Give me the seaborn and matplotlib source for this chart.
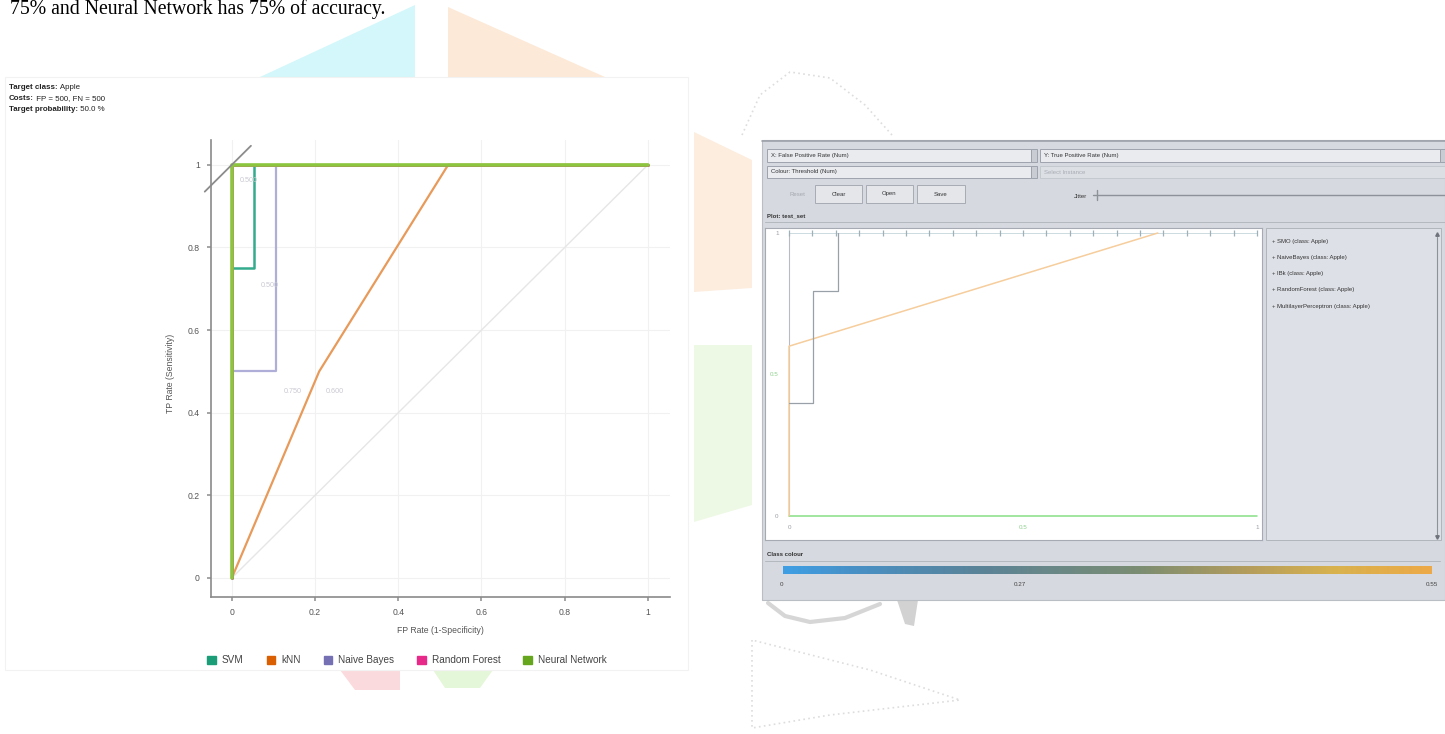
import numpy as np
import pandas as pd
import matplotlib
matplotlib.use("Agg")
import matplotlib.pyplot as plt
from matplotlib.patches import Rectangle, Polygon, Patch
from matplotlib.colors import LinearSegmentedColormap
import seaborn as sns

W, H = 1445, 734

# ---------------- ROC data (Orange evaluation) ----------------
models = ["SVM", "kNN", "Naive Bayes", "Random Forest", "Neural Network"]
legend_colors = ["#1b9e77", "#d95f02", "#7570b3", "#e7298a", "#66a61e"]
line_colors = ["#34ab8c", "#e89a5a", "#aeaed8", "#e7298a", "#8cc63e"]
line_widths = [1.8, 1.6, 1.6, 2.0, 2.6]

svm_fpr = [0.0, 0.0, 0.053, 0.053, 1.0]
svm_tpr = [0.0, 0.75, 0.75, 1.0, 1.0]
knn_fpr = [0.0, 0.21, 0.52, 1.0]
knn_tpr = [0.0, 0.50, 1.0, 1.0]
nb_fpr = [0.0, 0.0, 0.107, 0.107, 1.0]
nb_tpr = [0.0, 0.50, 0.50, 1.0, 1.0]
rf_fpr = [0.0, 0.0, 1.0]
rf_tpr = [0.0, 1.0, 1.0]
nn_fpr = [0.0, 0.0, 1.0]
nn_tpr = [0.0, 1.0, 1.0]
chance_fpr = [0.0, 1.0]
chance_tpr = [0.0, 1.0]

# threshold labels next to curve corners
thr_labels = ["0.500", "0.500", "0.750", "0.600"]
thr_fpr = [0.0, 0.053, 0.107, 0.21]
thr_tpr = [1.0, 0.75, 0.50, 0.50]

roc_ticks = [0.0, 0.2, 0.4, 0.6, 0.8, 1.0]
roc_ticklabels = ["0", "0.2", "0.4", "0.6", "0.8", "1"]

# ---------------- threshold curve data (Weka visualiser) ----------------
wk_legend = ["SMO (class: Apple)", "NaiveBayes (class: Apple)",
             "IBk (class: Apple)", "RandomForest (class: Apple)",
             "MultilayerPerceptron (class: Apple)"]
wk_top_fpr = [0.0, 0.05, 0.1, 0.15, 0.2, 0.25, 0.3, 0.35, 0.4, 0.45, 0.5,
              0.55, 0.6, 0.65, 0.7, 0.75, 0.8, 0.85, 0.9, 0.95, 1.0]
wk_top_tpr = [1.0, 1.0, 1.0, 1.0, 1.0, 1.0, 1.0, 1.0, 1.0, 1.0, 1.0,
              1.0, 1.0, 1.0, 1.0, 1.0, 1.0, 1.0, 1.0, 1.0, 1.0]
wk_step_fpr = [0.0, 0.051, 0.051, 0.105, 0.105]
wk_step_tpr = [0.40, 0.40, 0.795, 0.795, 1.0]
wk_ibk_fpr = [0.0, 0.0, 0.788]
wk_ibk_tpr = [0.0, 0.60, 1.0]
wk_mlp_fpr = [0.0, 1.0]
wk_mlp_tpr = [0.0, 0.0]
wk_xticklabels = ["0", "0.5", "1"]
wk_xticks = [0.0, 0.5, 1.0]
colour_labels = ["0", "0.27", "0.55"]

sns.set_theme(style="white")
plt.rcParams["font.family"] = ["Liberation Sans", "DejaVu Sans"]


def rect(x0, y0, x1, y1):
    return [x0 / W, 1 - y1 / H, (x1 - x0) / W, (y1 - y0) / H]


fig = plt.figure(figsize=(W / 100, H / 100), dpi=100)
fig.patch.set_facecolor("white")

# background canvas in pixel units
bg = fig.add_axes([0, 0, 1, 1])
bg.set_xlim(0, W)
bg.set_ylim(H, 0)
bg.axis("off")

# faint watermark shapes
wm = dict(lw=0, zorder=0)
bg.add_patch(Polygon([(260, 77), (415, 5), (415, 77)], fc="#d3f7fa", **wm))
bg.add_patch(Polygon([(448, 7), (448, 77), (605, 77)], fc="#fde9d7", **wm))
bg.add_patch(Polygon([(694, 132), (752, 160), (752, 288), (694, 292)], fc="#fdeddf", **wm))
bg.add_patch(Polygon([(694, 345), (752, 345), (752, 505), (694, 522)], fc="#eef9e5", **wm))
bg.add_patch(Polygon([(340, 670), (400, 670), (400, 690), (355, 690)], fc="#fbdadd", **wm))
bg.add_patch(Polygon([(433, 670), (493, 670), (480, 688), (445, 688)], fc="#e5f7d9", **wm))
bg.plot([742, 760, 790, 830, 865, 892], [135, 95, 72, 78, 105, 135],
        ls=(0, (1, 2)), color="#dddddd", lw=1.2, zorder=0)
bg.plot([752, 752, 830, 960, 870, 752], [640, 728, 715, 700, 670, 640],
        ls=(0, (1, 2)), color="#dddddd", lw=1.2, zorder=0)
bg.plot([768, 785, 810, 845, 880], [603, 616, 622, 618, 604],
        color="#d6d6d6", lw=3, solid_capstyle="round", zorder=0)
bg.add_patch(Polygon([(897, 600), (918, 600), (914, 626), (905, 624)], fc="#d2d2d2", **wm))

# page sentence
bg.text(10, 14, "75% and Neural Network has 75% of accuracy.", fontsize=14.2,
        family=["Liberation Serif", "DejaVu Serif"], color="black", va="baseline")

# ---------------- left: ROC analysis ----------------
bg.add_patch(Rectangle((5, 77), 683, 593, fc="white", ec="#f2f2f2", lw=0.8, zorder=1))
hdr = [("Target class:", " Apple", 89), ("Costs:", " FP = 500, FN = 500", 100),
       ("Target probability:", " 50.0 %", 111)]
for key, val, yy in hdr:
    t = bg.text(9, yy, key, fontsize=5.7, fontweight="bold", color="#222222",
                va="baseline", zorder=2)
    bg.annotate(val, xy=(1, 0), xycoords=t, fontsize=5.7, color="#222222",
                va="bottom", ha="left", zorder=2)

ax = fig.add_axes(rect(211, 140, 670, 597))
ax.set_facecolor("none")
ax.set_xlim(-0.05, 1.053)
ax.set_ylim(-0.046, 1.06)
ax.grid(True, color="#f1f1f1", lw=0.8)
ax.set_xticks(roc_ticks, roc_ticklabels)
ax.set_yticks(roc_ticks, roc_ticklabels)
ax.tick_params(axis="both", length=3, color="#999999", labelsize=6.2,
               labelcolor="#555555", pad=5, left=True, bottom=True)
for side in ["top", "right"]:
    ax.spines[side].set_visible(False)
for side in ["left", "bottom"]:
    ax.spines[side].set_color("#8a8a8a")
    ax.spines[side].set_linewidth(1.2)

sns.lineplot(x=chance_fpr, y=chance_tpr, ax=ax, color="#e6e6e6", lw=1.0,
             sort=False, estimator=None)
series = [(nb_fpr, nb_tpr, 2), (knn_fpr, knn_tpr, 1), (svm_fpr, svm_tpr, 0),
          (rf_fpr, rf_tpr, 3), (nn_fpr, nn_tpr, 4)]
for fx, fy, i in series:
    df = pd.DataFrame({"fpr": fx, "tpr": fy})
    sns.lineplot(data=df, x="fpr", y="tpr", ax=ax, color=line_colors[i],
                 lw=line_widths[i], sort=False, estimator=None)
ax.set_xlabel("FP Rate (1-Specificity)", fontsize=6.2, color="#555555")
ax.set_ylabel("TP Rate (Sensitivity)", fontsize=6.2, color="#555555")
ax.xaxis.set_label_coords(0.5, -0.063)
ax.yaxis.set_label_coords(-0.078, 0.49)

# iso-performance line through the best operating point
iso_x = np.array([-0.065, 0.046])
ax.plot(iso_x, iso_x + nn_tpr[1], color="#8c8c8c", lw=1.3, clip_on=False)

offsets = [(6, -9), (5, -10), (5, -12), (5, -12)]
for lab, fx, fy, off in zip(thr_labels, thr_fpr, thr_tpr, offsets):
    ax.annotate(lab, xy=(fx, fy), xytext=off, textcoords="offset points",
                fontsize=5.2, color="#c9c9d2", va="top")

handles = [Patch(fc=c, ec=c) for c in legend_colors]
fig.legend(handles, models, loc="center", bbox_to_anchor=(407 / W, 1 - 660 / H),
           ncol=5, frameon=False, fontsize=7.2, handlelength=0.85,
           handleheight=0.85, handletextpad=0.6, columnspacing=2.3,
           labelcolor="#444444")

# ---------------- right: Weka threshold-curve visualiser ----------------
panel = "#d6d9df"
bg.add_patch(Rectangle((762, 140), 683, 460, fc=panel, ec="#b9bdc4", lw=0.8, zorder=1))
bg.plot([762, 1445], [141, 141], color="#9da2aa", lw=1.2, zorder=2)


def box(x0, y0, x1, y1, fc="#e9ebef", ec="#9da3ad", lw=0.7):
    bg.add_patch(Rectangle((x0, y0), x1 - x0, y1 - y0, fc=fc, ec=ec, lw=lw, zorder=2))


gui_fs = 4.3
box(767, 149, 1031, 162)
box(1031, 149, 1037, 162, fc="#c9ccd3")
bg.text(771, 156, "X: False Positive Rate (Num)", fontsize=gui_fs, va="center", color="#333333", zorder=3)
box(1040, 149, 1440, 162)
box(1440, 149, 1445, 162, fc="#c9ccd3")
bg.text(1044, 156, "Y: True Positive Rate (Num)", fontsize=gui_fs, va="center", color="#333333", zorder=3)
box(767, 166, 1031, 178)
box(1031, 166, 1037, 178, fc="#c9ccd3")
bg.text(771, 172, "Colour: Threshold (Num)", fontsize=gui_fs, va="center", color="#333333", zorder=3)
box(1040, 166, 1445, 178, fc="#dcdfe4", ec="#c4c8cf")
bg.text(1044, 172, "Select Instance", fontsize=gui_fs, va="center", color="#a9adb4", zorder=3)

bg.text(797, 194, "Reset", fontsize=gui_fs, va="center", ha="center", color="#a5a9b0", zorder=3)
for lab, x0, x1 in [("Clear", 815, 862), ("Open", 866, 913), ("Save", 917, 965)]:
    box(x0, 185, x1, 203, fc="#e4e6ea", ec="#a6abb4")
    bg.text((x0 + x1) / 2, 194, lab, fontsize=gui_fs, va="center", ha="center",
            color="#333333", zorder=3)
bg.text(1087, 196, "Jitter", fontsize=gui_fs, va="center", ha="right", color="#333333", zorder=3)
bg.plot([1093, 1445], [195, 195], color="#8d929a", lw=1.0, zorder=3)
bg.plot([1097, 1097], [190, 200], color="#8d929a", lw=1.0, zorder=3)

bg.text(767, 216, "Plot: test_set", fontsize=gui_fs, fontweight="bold", va="center", color="#333333", zorder=3)
bg.plot([765, 1445], [222, 222], color="#b3b7be", lw=0.7, zorder=2)

# legend list of the visualiser
box(1266, 228, 1441, 540, fc="#dde0e6", ec="#b0b4bb")
bg.plot([1437, 1437], [237, 535], color="#8d929a", lw=0.8, zorder=3)
bg.plot([1437], [234], marker="^", ms=2.5, color="#6f747c", zorder=3)
bg.plot([1437], [537], marker="v", ms=2.5, color="#6f747c", zorder=3)
for i, lab in enumerate(wk_legend):
    bg.text(1272, 241 + 16.3 * i, "+ " + lab, fontsize=gui_fs, va="center",
            color="#333333", zorder=3)

wax = fig.add_axes(rect(765, 228, 1262, 540))
wax.set_facecolor("white")
wax.set_xlim(-0.0513, 1.0107)
wax.set_ylim(-0.0848, 1.0177)
wax.set_xticks([])
wax.set_yticks([])
for s in wax.spines.values():
    s.set_color("#a6abb3")
    s.set_linewidth(0.8)
ylo, yhi = wax.get_ylim()
wax.axvline(0, ymin=(0 - ylo) / (yhi - ylo), ymax=(1 - ylo) / (yhi - ylo),
            color="#b8bcc2", lw=0.8)
sns.lineplot(x=wk_top_fpr, y=wk_top_tpr, ax=wax, color="#c4d6da", lw=0.6,
             marker="|", markersize=5, markeredgewidth=0.9,
             markeredgecolor="#9fb0b8", sort=False, estimator=None)
sns.lineplot(x=wk_mlp_fpr, y=wk_mlp_tpr, ax=wax, color="#86df86", lw=1.1,
             sort=False, estimator=None)
sns.lineplot(x=wk_ibk_fpr, y=wk_ibk_tpr, ax=wax, color="#f6cd9c", lw=1.1,
             sort=False, estimator=None)
sns.lineplot(x=wk_step_fpr, y=wk_step_tpr, ax=wax, color="#9aa0a8", lw=0.9,
             sort=False, estimator=None)
wax.set_xlabel("")
wax.set_ylabel("")
for v, lab in zip(wk_xticks, wk_xticklabels):
    wax.text(v, -0.032, lab, fontsize=4.5, ha="center", va="top",
             color="#8fd08f" if lab == "0.5" else "#9a9ea5")
for v, lab in zip(wk_xticks, wk_xticklabels):
    wax.text(-0.022, v, lab, fontsize=4.5, ha="right", va="center",
             color="#8fd08f" if lab == "0.5" else "#9a9ea5")

# class colour strip
bg.text(767, 555, "Class colour", fontsize=gui_fs, fontweight="bold", va="center", color="#333333", zorder=3)
bg.plot([765, 1440], [561, 561], color="#b3b7be", lw=0.7, zorder=2)
cmap = LinearSegmentedColormap.from_list(
    "thr", [(0.0, "#3f9fe4"), (0.1, "#4791c8"), (0.3, "#5a8398"),
            (0.55, "#7b8d72"), (0.72, "#b59d5c"), (0.85, "#d8b24e"),
            (1.0, "#eda948")])
cax = fig.add_axes(rect(783, 566, 1432, 574))
cax.imshow(np.linspace(0, 1, 512)[None, :], aspect="auto", cmap=cmap)
cax.axis("off")
for xp, lab in zip([782, 1020, 1432], colour_labels):
    bg.text(xp, 584, lab, fontsize=4.5, ha="center", va="center", color="#444444", zorder=3)

fig.savefig("out.png", dpi=100, facecolor="white")
